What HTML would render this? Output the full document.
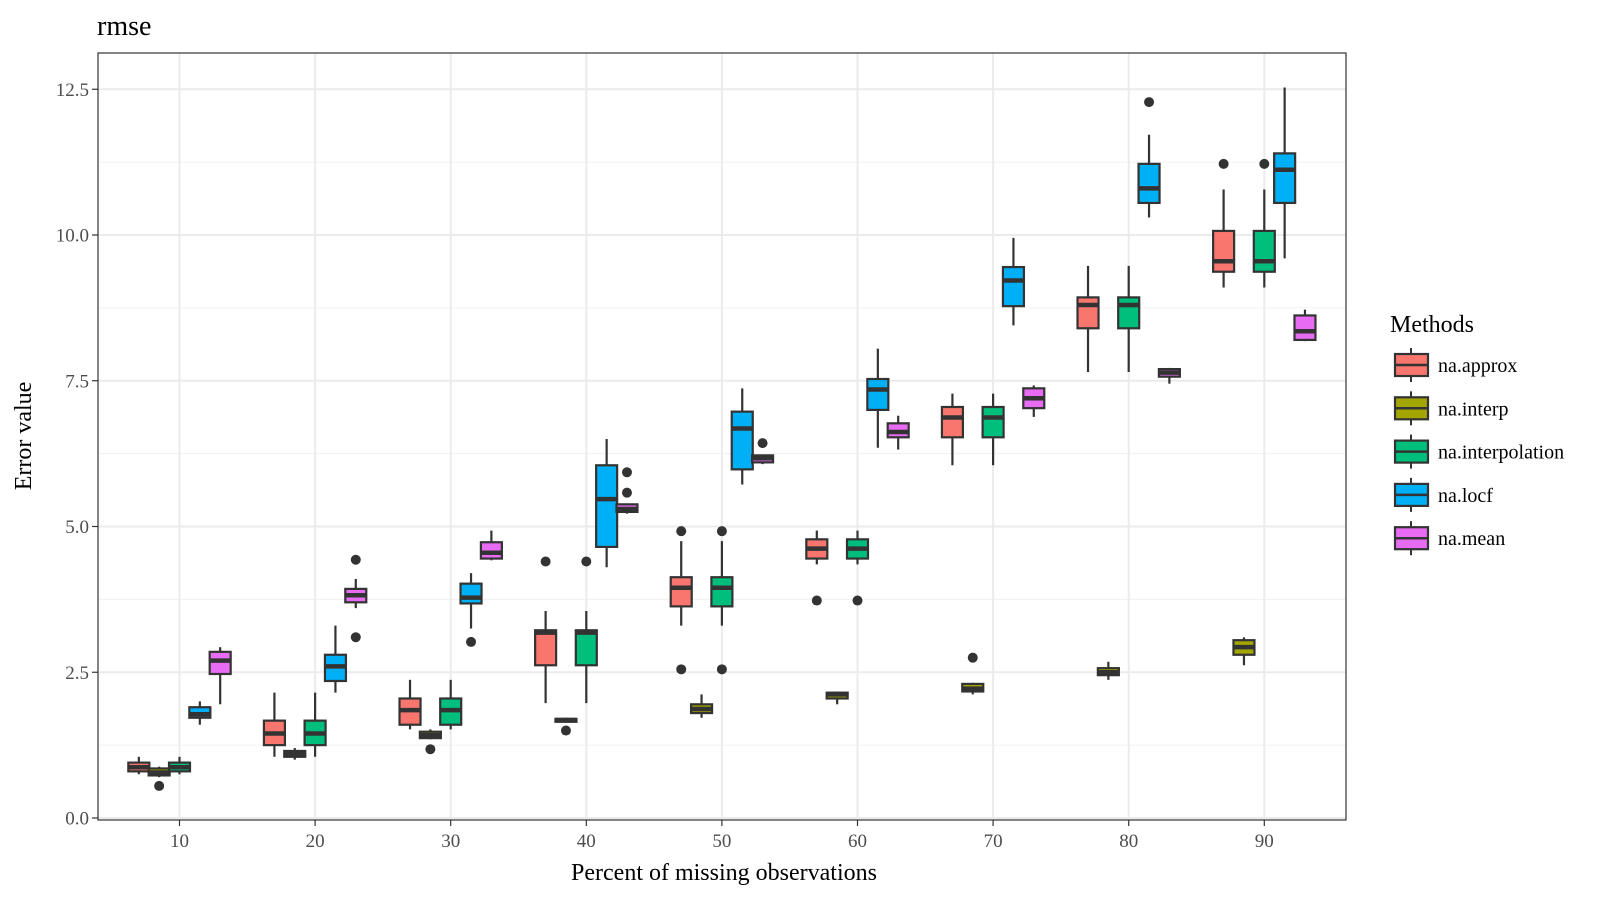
<!DOCTYPE html>
<html><head><meta charset="utf-8"><style>
body{margin:0;background:#fff;}
svg{display:block;font-family:"Liberation Serif",serif;}
</style></head><body>
<svg id="chart" width="1620" height="900" xmlns="http://www.w3.org/2000/svg">
<text x="97" y="35" font-size="28" fill="#000">rmse</text>
<g id="grid"></g>
<g id="marks"></g>
<rect x="98" y="53" width="1248" height="767" fill="none" stroke="#333" stroke-width="1.2"/>
<g id="axes"></g>
<text x="724" y="880" font-size="24" text-anchor="middle" fill="#000">Percent of missing observations</text>
<text transform="translate(31,436) rotate(-90)" font-size="24" text-anchor="middle" fill="#000">Error value</text>
<g id="legend"></g>
</svg>
<script>
const categories=[10,20,30,40,50,60,70,80,90];
const methods=["na.approx","na.interp","na.interpolation","na.locf","na.mean"];
const colors=["#F8766D","#A3A500","#00BF7D","#00B0F6","#E76BF3"];
const yTicks=[0,2.5,5,7.5,10,12.5];
const yTickLabels=["0.0","2.5","5.0","7.5","10.0","12.5"];
// [whiskerLow, q1, median, q3, whiskerHigh] per category
const approx=[[0.75,0.8,0.87,0.95,1.05],[1.05,1.25,1.45,1.67,2.15],[1.52,1.6,1.85,2.05,2.37],[1.97,2.62,3.18,3.22,3.55],[3.3,3.63,3.95,4.13,4.75],[4.35,4.45,4.62,4.78,4.93],[6.05,6.53,6.87,7.05,7.28],[7.65,8.4,8.8,8.93,9.47],[9.1,9.37,9.55,10.07,10.78]];
const interp=[[0.7,0.73,0.78,0.85,0.88],[1.0,1.05,1.1,1.15,1.2],[1.35,1.37,1.42,1.48,1.52],[1.65,1.65,1.68,1.7,1.72],[1.72,1.8,1.87,1.95,2.12],[1.95,2.05,2.12,2.15,2.17],[2.12,2.17,2.22,2.3,2.32],[2.37,2.45,2.5,2.57,2.68],[2.62,2.8,2.93,3.05,3.1]];
const interpolation=approx;
const locf=[[1.6,1.72,1.78,1.9,2.0],[2.15,2.35,2.6,2.8,3.3],[3.25,3.68,3.78,4.02,4.2],[4.3,4.65,5.47,6.05,6.5],[5.72,5.98,6.68,6.97,7.37],[6.35,7.0,7.35,7.53,8.05],[8.45,8.78,9.22,9.45,9.95],[10.3,10.55,10.8,11.22,11.72],[9.6,10.55,11.12,11.4,12.53]];
const mean=[[1.95,2.47,2.7,2.85,2.93],[3.6,3.7,3.82,3.93,4.1],[4.42,4.45,4.55,4.73,4.93],[5.22,5.25,5.3,5.38,5.38],[6.07,6.1,6.17,6.22,6.22],[6.32,6.53,6.62,6.77,6.9],[6.88,7.03,7.2,7.37,7.42],[7.45,7.57,7.64,7.7,7.72],[8.18,8.2,8.35,8.62,8.72]];
const outApprox=[[],[],[],[4.4],[4.92,2.55],[3.73],[],[],[11.22]];
const outInterp=[[0.55],[],[1.18],[1.5],[],[],[2.75],[],[]];
const outInterpolation=outApprox;
const outLocf=[[],[],[3.02],[],[],[],[],[12.28],[]];
const outMean=[[],[4.43,3.1],[],[5.93,5.58],[6.43],[],[],[],[]];

const series=[approx,interp,interpolation,locf,mean];
const outliers=[outApprox,outInterp,outInterpolation,outLocf,outMean];
const NS="http://www.w3.org/2000/svg";
const X=v=>179.5+(v-10)*13.56;
const Y=v=>818-v*58.3;
function mk(tag,attrs,parent){const e=document.createElementNS(NS,tag);for(const k in attrs)e.setAttribute(k,attrs[k]);parent.appendChild(e);return e;}
const grid=document.getElementById('grid'),marks=document.getElementById('marks'),axes=document.getElementById('axes'),legend=document.getElementById('legend');
for(let i=0;i<yTicks.length-1;i++){const v=(yTicks[i]+yTicks[i+1])/2;
 const l=mk('line',{x1:98,x2:1346,y1:Y(v),y2:Y(v),stroke:'#f0f0f0','stroke-width':1},grid);
 
 }
yTicks.forEach((v,i)=>{
 const l=mk('line',{x1:98,x2:1346,y1:Y(v),y2:Y(v),stroke:'#ebebeb','stroke-width':2},grid);
 
 
 const t=mk('line',{x1:92,x2:98,y1:Y(v),y2:Y(v),stroke:'#333','stroke-width':1.2},axes);
 
 
 const tx=mk('text',{x:89,y:Y(v)+6.5,'font-size':19,'text-anchor':'end',fill:'#4d4d4d'},axes);
 tx.textContent=yTickLabels[i];
 
 
});
categories.forEach(c=>{
 const l=mk('line',{x1:X(c),x2:X(c),y1:53,y2:820,stroke:'#ebebeb','stroke-width':2},grid);
 
 
 const t=mk('line',{x1:X(c),x2:X(c),y1:820,y2:826,stroke:'#333','stroke-width':1.2},axes);
 
 
 const tx=mk('text',{x:X(c),y:847,'font-size':19,'text-anchor':'middle',fill:'#4d4d4d'},axes);
 tx.textContent=c;
 
 
});
const offs=[-3,-1.5,0,1.5,3],bw=21;
categories.forEach((c,ci)=>{
 series.forEach((s,mi)=>{
  const d=s[ci],cx=X(c+offs[mi]);
  const g=mk('g',{},marks);
  
  
  mk('line',{x1:cx,x2:cx,y1:Y(d[0]),y2:Y(d[4]),stroke:'#333','stroke-width':2.2},g);
  mk('rect',{x:cx-bw/2,y:Y(d[3]),width:bw,height:Math.max(Y(d[1])-Y(d[3]),0.5),fill:colors[mi],stroke:'#333','stroke-width':2.2},g);
  mk('line',{x1:cx-bw/2,x2:cx+bw/2,y1:Y(d[2]),y2:Y(d[2]),stroke:'#333','stroke-width':4.5},g);
  outliers[mi][ci].forEach(o=>{
   const p=mk('circle',{cx:cx,cy:Y(o),r:5,fill:'#333'},marks);
   
   
  });
 });
});
const lt=mk('text',{x:1390,y:332,'font-size':24,fill:'#000'},legend);
lt.textContent='Methods';


methods.forEach((m,i)=>{
 const cy=365+i*43.3;
 const g=mk('g',{},legend);
 
 
 mk('line',{x1:1411,x2:1411,y1:cy-17,y2:cy+17,stroke:'#333','stroke-width':2},g);
 mk('rect',{x:1395,y:cy-11,width:33,height:22,fill:colors[i],stroke:'#333','stroke-width':2.2},g);
 mk('line',{x1:1395,x2:1428,y1:cy,y2:cy,stroke:'#333','stroke-width':2.5},g);
 const t=mk('text',{x:1438,y:cy+7,'font-size':20,fill:'#000'},g);
 t.textContent=m;
});
</script>
</body></html>
